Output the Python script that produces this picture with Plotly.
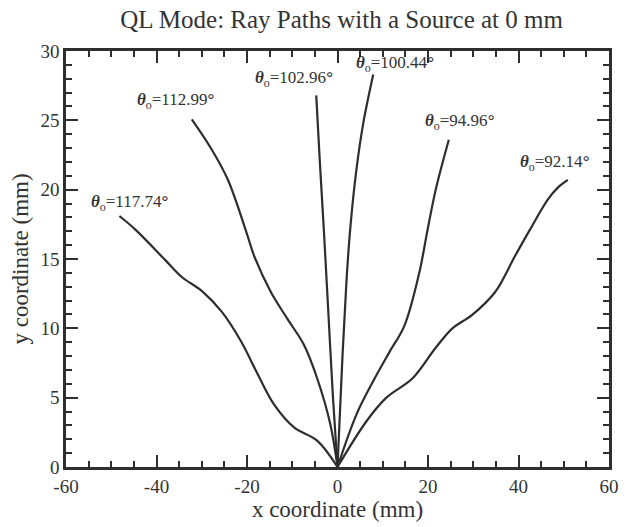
import plotly.graph_objects as go

# Ray path data (x, y in mm)
x_117 = [-48.2, -44.6, -38.0, -34.4, -30.0, -25.6, -21.3, -17.6, -14.0, -9.6, -4.5, 0.0]
y_117 = [18.1, 17.1, 14.9, 13.7, 12.7, 11.2, 9.05, 6.67, 4.5, 2.86, 1.9, 0.0]

x_112 = [-32.2, -27.8, -24.2, -20.0, -18.4, -14.7, -11.1, -7.4, -4.5, -1.6, 0.0]
y_112 = [25.07, 22.9, 20.7, 16.8, 15.2, 12.6, 10.7, 8.8, 6.4, 3.1, 0.0]

x_102 = [-4.7, -3.9, -3.0, -2.0, -1.0, 0.0]
y_102 = [26.8, 22.0, 17.0, 11.0, 5.0, 0.0]

x_100 = [7.9, 5.7, 4.2, 2.9, 2.0, 1.1, 0.0]
y_100 = [28.3, 24.8, 21.5, 17.5, 13.5, 8.0, 0.0]

x_94 = [24.6, 21.7, 19.9, 18.1, 14.8, 11.5, 7.9, 4.2, 0.0]
y_94 = [23.6, 20.0, 17.1, 14.05, 10.2, 8.3, 6.2, 3.8, 0.0]

x_92 = [50.9, 48.7, 46.5, 42.5, 39.2, 34.8, 29.7, 25.4, 21.7, 16.6, 10.8, 6.4, 0.0]
y_92 = [20.7, 20.15, 19.3, 17.1, 15.2, 12.6, 10.95, 10.0, 8.6, 6.4, 5.0, 3.3, 0.0]

angles = ["117.74", "112.99", "102.96", "100.44", "94.96", "92.14"]
label_x = [-45.9, -35.7, -9.6, 12.8, 27.0, 47.9]
label_y = [19.05, 26.4, 28.0, 29.05, 24.9, 21.9]

x_ticks = [-60, -40, -20, 0, 20, 40, 60]
x_ticktext = ["-60", "-40", "-20", "0", "20", "40", "60"]
y_ticks = [0, 5, 10, 15, 20, 25, 30]

paths = [(x_117, y_117), (x_112, y_112), (x_102, y_102),
         (x_100, y_100), (x_94, y_94), (x_92, y_92)]

LINE = "#2e2e2e"
TXT = "#333333"
FONT = "Liberation Serif"

fig = go.Figure()
for (xs, ys), a in zip(paths, angles):
    fig.add_trace(go.Scatter(x=xs, y=ys, mode="lines",
                             line=dict(color=LINE, width=2.2, shape="spline", smoothing=1.0),
                             name=a, showlegend=False, hoverinfo="skip"))

for a, lx, ly in zip(angles, label_x, label_y):
    fig.add_annotation(x=lx, y=ly, xref="x", yref="y", showarrow=False,
                       text="<b><i>θ</i></b><sub>o</sub>=" + a + "<b>°</b>",
                       font=dict(family=FONT, size=17, color=TXT))

common = dict(showgrid=False, zeroline=False, showline=True, linecolor=LINE, linewidth=2.5,
              mirror="ticks", ticks="inside", ticklen=12, tickwidth=2, tickcolor=LINE,
              tickfont=dict(family=FONT, size=19, color=TXT))

fig.update_layout(
    width=629, height=527,
    margin=dict(l=66, r=10, t=51, b=58),
    paper_bgcolor="white", plot_bgcolor="white",
    title=dict(text="QL Mode: Ray Paths with a Source at 0 mm", x=0.543, xanchor="center",
               y=0.964, yanchor="middle",
               font=dict(family=FONT, size=25, color=TXT)),
    xaxis=dict(range=[-60, 60], tickmode="array", tickvals=x_ticks, ticktext=x_ticktext,
               minor=dict(dtick=5, tick0=0, ticks="inside", ticklen=6, tickwidth=1.5, tickcolor=LINE),
               title=dict(text="x coordinate (mm)", font=dict(family=FONT, size=23, color=TXT), standoff=4),
               **common),
    yaxis=dict(range=[0, 30], tickmode="array", tickvals=y_ticks,
               minor=dict(dtick=1, tick0=0, ticks="inside", ticklen=6, tickwidth=1.5, tickcolor=LINE),
               title=dict(text="y coordinate (mm)", font=dict(family=FONT, size=23, color=TXT), standoff=6),
               **common),
)

fig.write_html("out.html", post_script="document.body.style.margin='0';",
               config={"displayModeBar": False})
